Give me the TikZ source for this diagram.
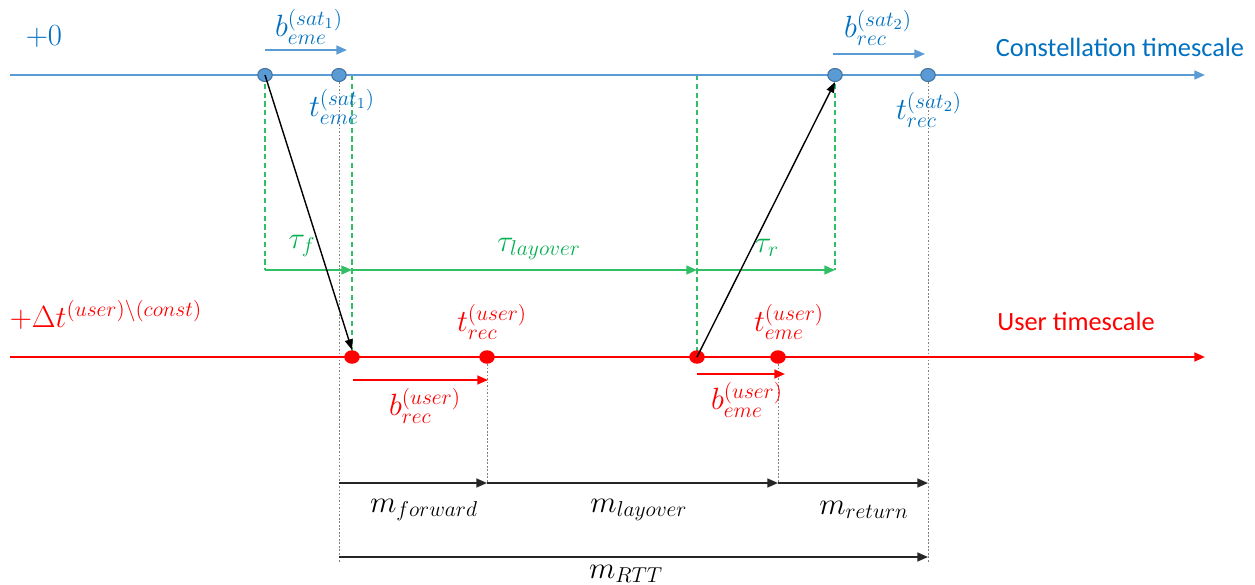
\RequirePackage{fix-cm}
\documentclass[tikz,border=0pt]{standalone}
\usepackage{fontspec}
\setmainfont{Carlito}
\usetikzlibrary{arrows.meta,shapes.geometric}
\definecolor{cblue}{RGB}{91,155,213}
\definecolor{tblue}{RGB}{0,112,192}
\definecolor{dblue}{RGB}{65,113,156}
\definecolor{cgreen}{RGB}{0,176,80}
\definecolor{lgreen}{RGB}{50,190,100}
\definecolor{cred}{RGB}{255,0,0}
\newcommand\mfont{\fontsize{17.5}{20}\selectfont}
\newcommand\tfont{\fontsize{15}{18}\selectfont}
\tikzset{
  tipsty/.style={-{Triangle[length=6pt,width=5pt]}},
  blueaxis/.style={draw=cblue,line width=1.2pt,tipsty},
  redaxis/.style={draw=cred,line width=1.2pt,tipsty},
  bdot/.style={ellipse,inner sep=0pt,minimum width=0.29cm,minimum height=0.26cm,fill=cblue,draw=dblue,line width=0.6pt},
  rdot/.style={ellipse,inner sep=0pt,minimum width=0.31cm,minimum height=0.27cm,fill=cred},
  gdot/.style={draw=gray,line width=0.5pt,dash pattern=on 1pt off 1pt},
  gdash/.style={draw=lgreen,line width=0.9pt,dash pattern=on 3pt off 2pt},
  garrow/.style={draw=lgreen,line width=0.9pt,tipsty},
  barrow/.style={draw=cblue,line width=1pt,tipsty},
  rarrow/.style={draw=cred,line width=1pt,tipsty},
  blk/.style={draw=black,line width=0.8pt,-{Triangle[length=6pt,width=4.5pt]}},
  marrow/.style={draw=black!85,line width=1pt,tipsty},
  lbl/.style={inner sep=0pt,font=\mfont},
  txt/.style={inner sep=0pt,font=\tfont},
}
\begin{document}
\begin{tikzpicture}[x=0.02cm,y=-0.02cm]
\useasboundingbox (0,0) rectangle (1255,585);
% coordinates
\coordinate (cs) at (10,75);  \coordinate (ce) at (1205,75);
\coordinate (us) at (10,357); \coordinate (ue) at (1205,357);
\coordinate (gA) at (265,270); \coordinate (gB) at (352,270);
\coordinate (gC) at (697,270); \coordinate (gD) at (835,270);
\coordinate (gBt) at (352,75); \coordinate (gCt) at (697,75);
\coordinate (mA) at (339,483); \coordinate (mB) at (487,483);
\coordinate (mC) at (778,483); \coordinate (mD) at (928,483);
\coordinate (rA) at (339,557); \coordinate (rD) at (928,557);
\coordinate (gAb) at (339,562); \coordinate (gDb) at (928,562);
\coordinate (b1s) at (265,50); \coordinate (b1e) at (347,50);
\coordinate (b2s) at (833,54); \coordinate (b2e) at (925,54);
\coordinate (r1s) at (353,380); \coordinate (r1e) at (488,380);
\coordinate (r2s) at (697,374); \coordinate (r2e) at (785,374);
% dot positions
\path (265,75) coordinate (ps1) (339,75) coordinate (ps2)
      (835,75) coordinate (ps3) (928,75) coordinate (ps4)
      (352,357) coordinate (pu1) (487,357) coordinate (pu2)
      (697,357) coordinate (pu3) (778,357) coordinate (pu4);
% gray dotted guides
\draw[gdot] (ps2) -- (gAb);
\draw[gdot] (ps4) -- (gDb);
\draw[gdot] (pu2) -- (mB);
\draw[gdot] (pu4) -- (mC);
% green dashed guides
\draw[gdash] (ps1) -- (gA);
\draw[gdash] (gBt) -- (pu1);
\draw[gdash] (gCt) -- (pu3);
\draw[gdash] (ps3) -- (gD);
\draw[garrow] (gA) -- (gB);
\draw[garrow] (gB) -- (gC);
\draw[garrow] (gC) -- (gD);
% axes
\draw[blueaxis] (cs) -- (ce);
\draw[redaxis] (us) -- (ue);
% dots
\node[bdot] (s1) at (ps1) {};
\node[bdot] (s2) at (ps2) {};
\node[bdot] (s3) at (ps3) {};
\node[bdot] (s4) at (ps4) {};
\node[rdot] (u1) at (pu1) {};
\node[rdot] (u2) at (pu2) {};
\node[rdot] (u3) at (pu3) {};
\node[rdot] (u4) at (pu4) {};
% signal arrows
\draw[blk] (s1.center) -- (u1.north);
\draw[blk] (u3.center) -- (s3.south);
% small duration arrows
\draw[barrow] (b1s) -- (b1e);
\draw[barrow] (b2s) -- (b2e);
\draw[rarrow] (r1s) -- (r1e);
\draw[rarrow] (r2s) -- (r2e);
% measurement arrows
\draw[marrow] (mA) -- (mB);
\draw[marrow] (mB) -- (mC);
\draw[marrow] (mC) -- (mD);
\draw[marrow] (rA) -- (rD);
% labels
\node[lbl,text=tblue] (l0) at (44,37) {$+0$};
\node[txt,text=tblue] (lct) at (1120,47) {Constellation timescale};
\node[lbl,text=tblue] (lb1) at (309,27) {$b_{eme}^{(sat_1)}$};
\node[lbl,text=tblue] (lt1) at (342,107) {$t_{eme}^{(sat_1)}$};
\node[lbl,text=tblue] (lb2) at (878,28) {$b_{rec}^{(sat_2)}$};
\node[lbl,text=tblue] (lt2) at (929,110) {$t_{rec}^{(sat_2)}$};
\node[lbl,text=cgreen] (ltf) at (302,246) {$\tau_f$};
\node[lbl,text=cgreen] (ltl) at (539,249) {$\tau_{layover}$};
\node[lbl,text=cgreen] (ltr) at (767,248) {$\tau_r$};
\node[lbl,text=cred] (ldt) at (106,315) {$+\Delta t^{(user)\backslash(const)}$};
\node[txt,text=cred] (lut) at (1076,321) {User timescale};
\node[lbl,text=cred] (ltu1) at (492,322) {$t_{rec}^{(user)}$};
\node[lbl,text=cred] (ltu2) at (789,322) {$t_{eme}^{(user)}$};
\node[lbl,text=cred] (lbu1) at (425,406) {$b_{rec}^{(user)}$};
\node[lbl,text=cred] (lbu2) at (747,400) {$b_{eme}^{(user)}$};
\node[lbl] (lmf) at (424,510) {$m_{forward}$};
\node[lbl] (lml) at (639,510) {$m_{layover}$};
\node[lbl] (lmr) at (864,510) {$m_{return}$};
\node[lbl] (lmt) at (626,574) {$m_{RTT}$};
\end{tikzpicture}
\end{document}
